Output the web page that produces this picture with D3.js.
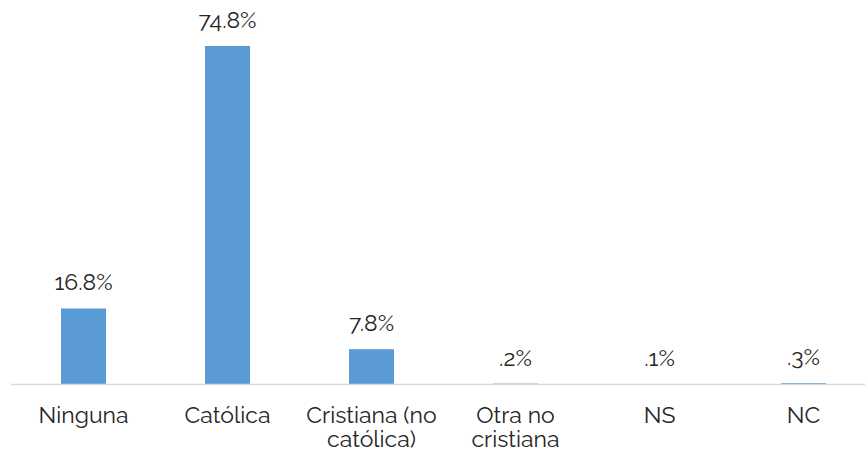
<!DOCTYPE html>
<html><head><meta charset="utf-8">
<script src="https://cdn.jsdelivr.net/npm/d3@7"></script>
<style>body{margin:0;background:#fff}svg{display:block}</style>
</head><body>
<svg id="c" width="865" height="455"></svg>
<script>
const categories = [["Ninguna"], ["Católica"], ["Cristiana (no", "católica)"], ["Otra no", "cristiana"], ["NS"], ["NC"]];
const values = [16.8, 74.8, 7.8, 0.2, 0.1, 0.3];
const valueLabels = ["16.8%", "74.8%", "7.8%", ".2%", ".1%", ".3%"];

const svg = d3.select("#c");
const font = "Raleway, Lato, 'Open Sans', sans-serif";
const x = d3.scaleBand().domain(d3.range(categories.length)).range([11.5, 875.5]).paddingInner(0.6875).paddingOuter(0.34375);
const y = d3.scaleLinear().domain([0, 74.8]).range([384.5, 46]);

svg.selectAll("rect.bar").data(values).join("rect")
  .attr("class", "bar")
  .attr("x", (d, i) => x(i))
  .attr("width", x.bandwidth())
  .attr("y", d => y(d))
  .attr("height", d => y(0) - y(d))
  .attr("fill", "#5b9bd5");

svg.append("line").attr("x1", 11).attr("x2", 865).attr("y1", 384.5).attr("y2", 384.5)
  .attr("stroke", "#d9d9d9").attr("stroke-width", 1.5);

svg.selectAll("text.val").data(values).join("text")
  .attr("class", "val")
  .attr("x", (d, i) => x(i) + x.bandwidth() / 2)
  .attr("y", d => y(d) - 18)
  .attr("text-anchor", "middle")
  .attr("font-family", font).attr("font-size", 23).attr("fill", "#262626")
  .text((d, i) => valueLabels[i]);

const cat = svg.selectAll("text.cat").data(categories).join("text")
  .attr("class", "cat")
  .attr("x", (d, i) => x(i) + x.bandwidth() / 2)
  .attr("y", 423)
  .attr("text-anchor", "middle")
  .attr("font-family", font).attr("font-size", 23).attr("fill", "#262626");
cat.each(function(d, i) {
  const t = d3.select(this);
  d.forEach((line, j) => {
    t.append("tspan").attr("x", x(i) + x.bandwidth() / 2).attr("dy", j === 0 ? 0 : 24).text(line);
  });
});
</script>
</body></html>
